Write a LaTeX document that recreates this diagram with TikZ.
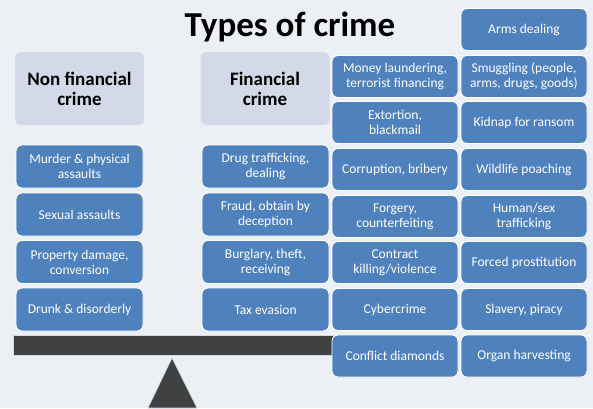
\documentclass[tikz,border=0pt]{standalone}
\usepackage{fontspec}
\setmainfont{Carlito}
\usepackage{xcolor}
\usepackage{tikz}

\definecolor{bgpanel}{HTML}{ECEFF3}
\definecolor{crimeblue}{HTML}{4F81BD}
\definecolor{headfill}{HTML}{D3D9E8}
\definecolor{beamgray}{HTML}{404241}

\tikzset{
	crime/.style={rectangle, rounded corners=6pt, fill=crimeblue, draw=white, line width=0.9pt,
		text=white, align=center, minimum width=126pt, minimum height=42pt, inner sep=1pt,
		font=\fontsize{13.5}{15}\selectfont},
	head/.style={rectangle, rounded corners=6pt, fill=headfill, draw=none, align=center,
		minimum width=129pt, minimum height=73pt, font=\bfseries\fontsize{19}{20}\selectfont}
}

\begin{document}
\begin{tikzpicture}[x=1pt,y=-1pt]
		\useasboundingbox[fill=bgpanel] (0,0) rectangle (593,408);
		% seesaw
		\draw[fill=beamgray, draw=headfill, line width=0.6pt] (13,335) rectangle (336,355);
		\draw[fill=beamgray, draw=headfill, line width=0.6pt] (172,358) -- (148,408) -- (197,408) -- cycle;
		%
		\node[font=\bfseries\fontsize{35}{38}\selectfont] (T) at (290,27) {Types of crime};
		\node[head] (NH) at (79.5,88.5) {Non financial\\crime};
		\node[head] (FH) at (265,88.5) {Financial\\crime};
		% non financial
		\node[crime, minimum width=127pt, minimum height=43pt] (N1) at (79.5,166.5) {Murder \& physical\\assaults};
		\node[crime, minimum width=127pt, minimum height=43pt] (N2) at (79.5,214.5) {Sexual assaults};
		\node[crime, minimum width=127pt, minimum height=43pt] (N3) at (79.5,262) {Property damage,\\conversion};
		\node[crime, minimum width=127pt, minimum height=43pt] (N4) at (79.5,309.5) {Drunk \& disorderly};
		% financial
		\node[crime, minimum width=127pt, minimum height=43pt] (F1) at (265.5,166.5) {Drug trafficking,\\dealing};
		\node[crime, minimum width=127pt, minimum height=43pt] (F2) at (265.5,214.5) {Fraud, obtain by\\deception};
		\node[crime, minimum width=127pt, minimum height=43pt] (F3) at (265.5,262) {Burglary, theft,\\receiving};
		\node[crime, minimum width=127pt, minimum height=43pt] (F4) at (265.5,309.5) {Tax evasion};
		% organised crime, first column
		\node[crime] (C1) at (395,76.5) {Money laundering,\\terrorist financing};
		\node[crime] (C2) at (395,122.5) {Extortion,\\blackmail};
		\node[crime] (C3) at (395,169.5) {Corruption, bribery};
		\node[crime] (C4) at (395,216.5) {Forgery,\\counterfeiting};
		\node[crime] (C5) at (395,262.5) {Contract\\killing/violence};
		\node[crime] (C6) at (395,309.5) {Cybercrime};
		\node[crime] (C7) at (395,356) {Conflict diamonds};
		% organised crime, second column
		\node[crime] (D0) at (524,29.5) {Arms dealing};
		\node[crime] (D1) at (524,76.5) {Smuggling (people,\\arms, drugs, goods)};
		\node[crime] (D2) at (524,122.5) {Kidnap for ransom};
		\node[crime] (D3) at (524,169.5) {Wildlife poaching};
		\node[crime] (D4) at (524,216.5) {Human/sex\\trafficking};
		\node[crime] (D5) at (524,262.5) {Forced prostitution};
		\node[crime] (D6) at (524,309.5) {Slavery, piracy};
		\node[crime] (D7) at (524,356) {Organ harvesting};
	\end{tikzpicture}
\end{document}
